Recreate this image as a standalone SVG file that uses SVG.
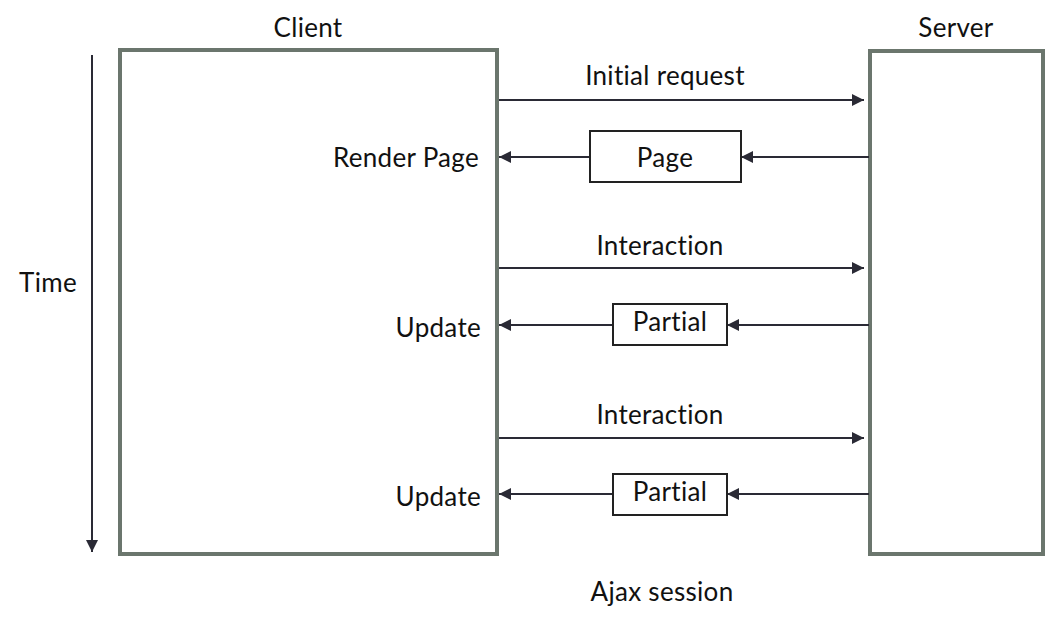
<svg xmlns="http://www.w3.org/2000/svg" width="1047" height="626" viewBox="0 0 1047 626">
<style>
.box{fill:#fff;stroke:#6b766d;stroke-width:4}
.msg{fill:#fff;stroke:#222;stroke-width:2}
.ln{stroke:#2a2a35;stroke-width:2;fill:none}
text{font-family:"Lato","Open Sans","Liberation Sans",sans-serif;font-size:26px;letter-spacing:0.3px;fill:#111}
</style>
<defs>
<marker id="ahb" viewBox="0 0 10 10" refX="10" refY="5" markerWidth="12" markerHeight="12" markerUnits="userSpaceOnUse" orient="auto">
<path d="M0,0 L10,5 L0,10 Z" fill="#2a2a35"/>
</marker>
</defs>
<g id="time">
<line class="ln" x1="92" y1="55" x2="92" y2="552" marker-end="url(#ahb)"/>
<text x="48" y="292" text-anchor="middle">Time</text>
</g>
<g id="client">
<rect class="box" x="120" y="50" width="377" height="504"/>
<text x="308" y="37" text-anchor="middle">Client</text>
<text x="479" y="167" text-anchor="end">Render Page</text>
<text x="481" y="337" text-anchor="end">Update</text>
<text x="481" y="506" text-anchor="end">Update</text>
</g>
<g id="server">
<rect class="box" x="870" y="51" width="173" height="503"/>
<text x="956" y="37" text-anchor="middle">Server</text>
</g>
<g id="connectors">
<line class="ln" x1="499" y1="100" x2="864" y2="100" marker-end="url(#ahb)"/>
<line class="ln" x1="869" y1="157" x2="741" y2="157" marker-end="url(#ahb)"/>
<line class="ln" x1="590" y1="157" x2="499" y2="157" marker-end="url(#ahb)"/>
<line class="ln" x1="499" y1="268" x2="864" y2="268" marker-end="url(#ahb)"/>
<line class="ln" x1="869" y1="325" x2="727" y2="325" marker-end="url(#ahb)"/>
<line class="ln" x1="613" y1="325" x2="499" y2="325" marker-end="url(#ahb)"/>
<line class="ln" x1="499" y1="438" x2="864" y2="438" marker-end="url(#ahb)"/>
<line class="ln" x1="869" y1="494" x2="727" y2="494" marker-end="url(#ahb)"/>
<line class="ln" x1="613" y1="494" x2="499" y2="494" marker-end="url(#ahb)"/>
</g>
<g id="labels">
<text x="665" y="85" text-anchor="middle">Initial request</text>
<text x="660" y="255" text-anchor="middle">Interaction</text>
<text x="660" y="424" text-anchor="middle">Interaction</text>
<text x="662" y="601" text-anchor="middle">Ajax session</text>
</g>
<g id="page">
<rect class="msg" x="590" y="131" width="151" height="51"/>
<text x="665" y="167" text-anchor="middle">Page</text>
</g>
<g id="partial1">
<rect class="msg" x="613" y="304" width="114" height="41"/>
<text x="670" y="331" text-anchor="middle">Partial</text>
</g>
<g id="partial2">
<rect class="msg" x="613" y="474" width="114" height="41"/>
<text x="670" y="501" text-anchor="middle">Partial</text>
</g>
</svg>
